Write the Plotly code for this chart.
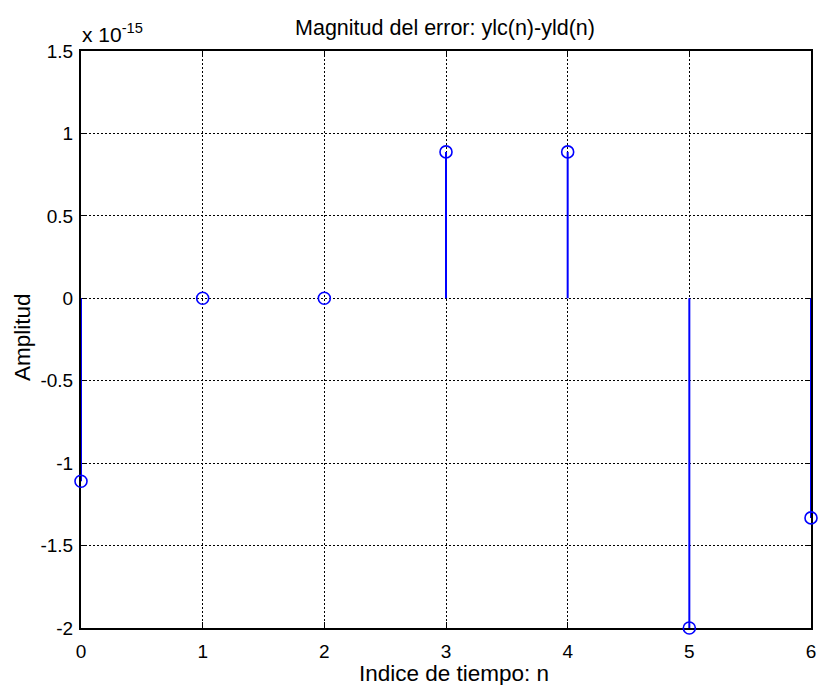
import plotly.graph_objects as go

n = [0, 1, 2, 3, 4, 5, 6]
error_vals = [-1.11e-15, 0.0, 0.0, 0.888e-15, 0.888e-15, -2.0e-15, -1.332e-15]
scale = 1e-15
y_ticks = [-2, -1.5, -1, -0.5, 0, 0.5, 1, 1.5]
y_tick_text = ["-2", "-1.5", "-1", "-0.5", "0", "0.5", "1", "1.5"]
x_ticks = [0, 1, 2, 3, 4, 5, 6]

ys = [v / scale for v in error_vals]

sx, sy = [], []
for xi, yi in zip(n, ys):
    sx += [xi, xi, None]
    sy += [0, yi, None]

fig = go.Figure()
fig.add_trace(go.Scatter(x=sx, y=sy, mode="lines",
                         line=dict(color="#0000ff", width=2),
                         hoverinfo="skip", showlegend=False, cliponaxis=False))
fig.add_trace(go.Scatter(x=n, y=ys, mode="markers",
                         marker=dict(symbol="circle-open", size=12,
                                     color="#0000ff", line=dict(width=1.6, color="#0000ff")),
                         showlegend=False, cliponaxis=False))

fam = "Liberation Sans, Arial, sans-serif"
font = dict(family=fam, size=19, color="black")

L, R, T, B = 81, 811, 51, 628
PW, PH = R - L, B - T

axis_common = dict(showgrid=True, gridcolor="black", griddash="2px,2px", gridwidth=1,
                   zeroline=False, showline=True, linecolor="black", linewidth=2,
                   mirror="ticks", ticks="inside", ticklen=6, tickcolor="black",
                   tickwidth=1, layer="below traces", tickfont=dict(size=19, family=fam))

fig.update_layout(
    width=820, height=685,
    margin=dict(l=L, r=820 - R, t=T, b=685 - B, autoexpand=False),
    paper_bgcolor="white", plot_bgcolor="white",
    font=font,
    title=dict(text="Magnitud del error: ylc(n)-yld(n)", x=(445) / 820, xanchor="center",
               y=1 - 27 / 685, yanchor="middle", font=dict(size=21.5, family=fam)),
    xaxis=dict(range=[0, 6], tickvals=x_ticks, ticklabelstandoff=5, **axis_common),
    yaxis=dict(range=[-2, 1.5], tickvals=y_ticks, ticktext=y_tick_text,
               ticklabelstandoff=2, **axis_common),
    annotations=[
        dict(text="x 10<sup>-15</sup>", xref="paper", yref="paper",
             x=0, y=1, xanchor="left", yanchor="bottom", yshift=3, xshift=-1,
             showarrow=False, font=dict(size=21, family=fam)),
        dict(text="Indice de tiempo: n", xref="paper", yref="paper",
             x=(454 - L) / PW, y=(B - 673) / PH, xanchor="center", yanchor="middle",
             showarrow=False, font=dict(size=22.5, family=fam)),
        dict(text="Amplitud", xref="paper", yref="paper", textangle=-90,
             x=(22 - L) / PW, y=(B - 337) / PH, xanchor="center", yanchor="middle",
             showarrow=False, font=dict(size=22.5, family=fam)),
    ],
)

fig.write_html("out.html")
